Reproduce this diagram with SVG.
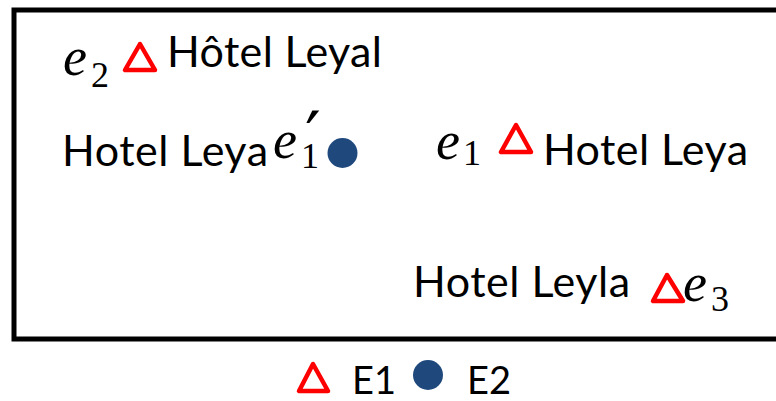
<svg xmlns="http://www.w3.org/2000/svg" width="776" height="401" viewBox="0 0 776 401">
<style>
.lbl{font-family:Lato,"Liberation Sans",sans-serif;font-size:43px;fill:#000}
.leg{font-family:Lato,"Liberation Sans",sans-serif;font-size:38px;fill:#000}
.m{font-family:"Liberation Serif","DejaVu Serif",serif;font-style:italic;font-size:54px;fill:#000}
.s{font-family:"Liberation Serif","DejaVu Serif",serif;font-size:36px;fill:#000}
.p{font-family:"DejaVu Serif",serif;font-size:70px;fill:#000}
.tri{fill:#fff;stroke:#f00;stroke-width:4.5;stroke-linejoin:round}
.dot{fill:#1f497d}
</style>
<rect x="14" y="10" width="800" height="329" fill="#fff" stroke="#000" stroke-width="5"/>
<g id="e2">
<text class="m" x="63" y="75">e</text><text class="s" x="91" y="87">2</text>
<polygon class="tri" points="140,44 125,70 155,70"/>
<text class="lbl" x="167" y="67" textLength="215">Hôtel Leyal</text>
</g>
<g id="e1p">
<text class="lbl" x="62" y="166" textLength="206">Hotel Leya</text>
<text class="m" x="273" y="158">e</text><text class="p" x="305" y="161">′</text><text class="s" x="301" y="168">1</text>
<circle class="dot" cx="342.5" cy="153" r="15"/>
</g>
<g id="e1">
<text class="m" x="436" y="159">e</text><text class="s" x="463" y="165">1</text>
<polygon class="tri" points="516,125 501,152 531,152"/>
<text class="lbl" x="543" y="165" textLength="205">Hotel Leya</text>
</g>
<g id="e3">
<text class="lbl" x="413" y="297" textLength="217">Hotel Leyla</text>
<polygon class="tri" points="667,275 653,301 683,301"/>
<text class="m" x="683" y="301">e</text><text class="s" x="711" y="311">3</text>
</g>
<g id="legend">
<polygon class="tri" points="313,364 299,391 328,391"/>
<text class="leg" x="352" y="394">E1</text>
<circle class="dot" cx="428" cy="375" r="15"/>
<text class="leg" x="467" y="394">E2</text>
</g>
</svg>
